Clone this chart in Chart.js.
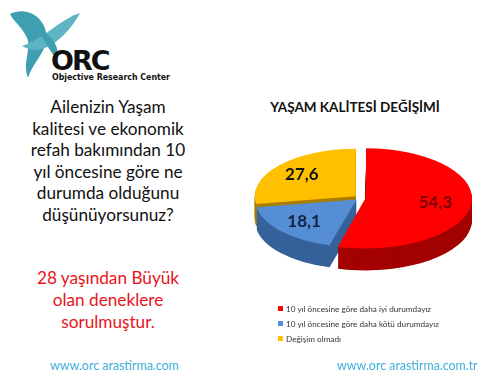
<!DOCTYPE html>
<html><head><meta charset="utf-8">
<script src="https://cdn.jsdelivr.net/npm/chart.js@4/dist/chart.umd.min.js"></script>
<style>
html,body{margin:0;padding:0;background:#fff;}
body{width:500px;height:388px;position:relative;overflow:hidden;font-family:Lato,"Open Sans",sans-serif;}
.abs{position:absolute;}
#q{left:8px;top:96px;width:200px;text-align:center;font-size:17.2px;line-height:21.5px;color:#111;white-space:nowrap;}
#n{left:8px;top:267px;width:200px;text-align:center;font-size:17.2px;line-height:22px;color:#e8141b;white-space:nowrap;}
#title{left:235px;top:99px;width:240px;text-align:center;font-weight:bold;font-size:13.5px;color:#111;}
#legend{left:278px;top:303px;font-size:8.2px;color:#333;}
#legend div{height:15px;line-height:12px;white-space:nowrap;}
#legend span.b{display:inline-block;width:5px;height:5px;margin-right:3px;vertical-align:1px;}
.url{top:358px;font-size:12.4px;color:#3db0dc;}
#logo{left:0;top:0;}
</style></head><body>
<svg id="logo" class="abs" width="200" height="90">
  <path d="M10 14 C30 4,50 22,46 42 C43 56,32 64,28 78 C22 62,32 48,27 38 C23 28,14 22,10 14 Z" fill="#3e9fb2"/>
  <path d="M22 46 C42 40,62 18,80 13 C72 28,58 44,42 49 C34 51,27 49,22 46 Z" fill="#5fb4c4"/>
  <path d="M38 28 C54 36,60 48,57 60 C50 50,44 42,38 28 Z" fill="#3e9fb2"/>
  <text x="51" y="70" font-family="'DejaVu Sans'" font-weight="bold" font-size="27" letter-spacing="-2" fill="#111">ORC</text>
  <text x="52" y="80" font-family="'DejaVu Sans'" font-weight="bold" font-size="8.6" fill="#111" textLength="118" lengthAdjust="spacingAndGlyphs">Objective Research Center</text>
</svg>
<div id="q" class="abs">Ailenizin Yaşam<br>kalitesi ve ekonomik<br>refah bakımından 10<br>yıl öncesine göre ne<br>durumda olduğunu<br>düşünüyorsunuz?</div>
<div id="n" class="abs">28 yaşından Büyük<br>olan deneklere<br>sorulmuştur.</div>
<div id="title" class="abs">YAŞAM KALİTESİ DEĞİŞİMİ</div>
<div class="abs" style="left:240px;top:78px;width:240px;height:240px;"><canvas id="c" width="240" height="240"></canvas></div>
<div id="legend" class="abs"></div>
<div class="abs url" style="left:50px;">www.orc arastirma.com</div>
<div class="abs url" style="left:337px;">www.orc arastirma.com.tr</div>
<script>
const categories = ["10 yıl öncesine göre daha iyi durumdayız","10 yıl öncesine göre daha kötü durumdayız","Değişim olmadı"];
const values = [54.3, 18.1, 27.6];
const valueLabels = ["54,3","18,1","27,6"];
const topColors = ["#ff0000","#558ed5","#ffc000"];
const sideColors = ["#a30000","#36619a","#a87e00"];
const labelColors = ["#7a0000","#14213d","#111111"];

const SY = 0.47, DEPTH = 22;
const lg = document.getElementById('legend');
categories.forEach((c,i)=>{
  const d=document.createElement('div');
  d.innerHTML='<span class="b" style="background:'+topColors[i]+'"></span>'+c;
  lg.appendChild(d);
});

const squash = {
  id:'squash',
  beforeDatasetsDraw(chart){
    const ctx=chart.ctx, meta=chart.getDatasetMeta(0);
    const cy=meta.data[0].y;
    ctx.save();
    ctx.translate(0,cy); ctx.scale(1,SY); ctx.translate(0,-cy);
    for(let k=DEPTH;k>=1;k--){
      meta.data.forEach((arc,i)=>{
        const f=Object.create(arc);
        f.options=Object.assign({},arc.options,{backgroundColor:sideColors[i],borderColor:sideColors[i],borderWidth:0});
        ctx.save(); ctx.translate(0,k/SY); f.draw(ctx); ctx.restore();
      });
    }
  },
  afterDatasetsDraw(chart){
    const ctx=chart.ctx; ctx.restore();
    const meta=chart.getDatasetMeta(0);
    meta.data.forEach((arc,i)=>{
      const mid=(arc.startAngle+arc.endAngle)/2;
      const r=arc.outerRadius*0.7+arc.options.offset/4;
      const x=arc.x+Math.cos(mid)*r, y=arc.y+Math.sin(mid)*r*SY;
      ctx.save();
      ctx.font='bold 17px Lato, sans-serif';
      ctx.fillStyle=labelColors[i];ctx.textAlign='center';ctx.textBaseline='middle';
      ctx.fillText(valueLabels[i],x,y);
      ctx.restore();
    });
  }
};

new Chart(document.getElementById('c'),{
  type:'pie',
  data:{labels:categories,datasets:[{data:values,backgroundColor:topColors,borderWidth:0,offset:[22,18,22]}]},
  options:{responsive:false,animation:false,layout:{padding:8},
    plugins:{legend:{display:false},tooltip:{enabled:false}}},
  plugins:[squash]
});
</script>
</body></html>
